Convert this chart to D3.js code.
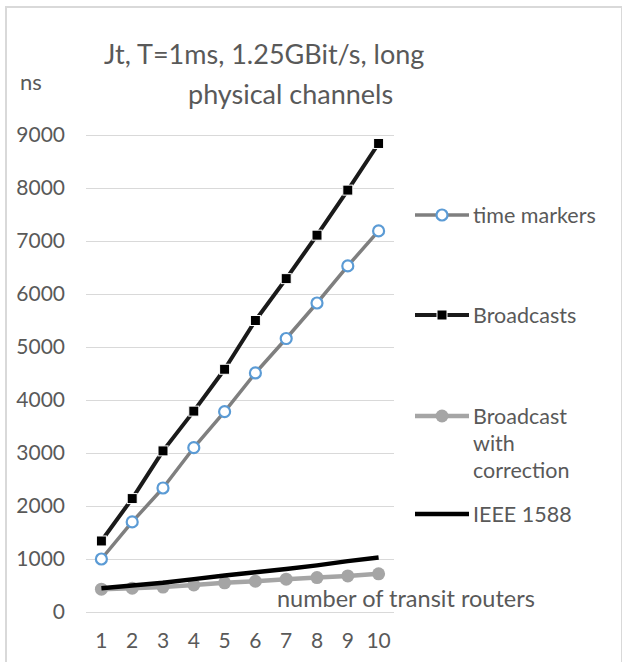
<!DOCTYPE html>
<html>
<head>
<meta charset="utf-8">
<script src="https://cdn.jsdelivr.net/npm/d3@7/dist/d3.min.js"></script>
<style>
  html, body { margin: 0; padding: 0; background: #ffffff; }
  svg { display: block; }
  text { font-family: Lato, "Open Sans", sans-serif; fill: #595959; }
</style>
</head>
<body>
<svg id="chart" width="622" height="662"></svg>
<script>
// ---- data ----
const categories = ["1", "2", "3", "4", "5", "6", "7", "8", "9", "10"];
const timeMarkers = [1000, 1700, 2340, 3100, 3780, 4510, 5160, 5830, 6530, 7190];
const broadcasts = [1340, 2140, 3040, 3790, 4580, 5500, 6290, 7110, 7960, 8840];
const broadcastCorrection = [430, 450, 470, 510, 550, 580, 620, 650, 680, 720];
const ieee1588 = [450, 500, 550, 620, 690, 750, 810, 880, 960, 1030];
const yTicks = [0, 1000, 2000, 3000, 4000, 5000, 6000, 7000, 8000, 9000];
const titleLines = ["Jt, T=1ms, 1.25GBit/s, long", "physical channels"];
const yTitle = "ns";
const xTitle = "number of transit routers";
const seriesNames = ["time markers", "Broadcasts", "Broadcast with correction", "IEEE 1588"];

const svg = d3.select("#chart");

// frame
svg.append("rect").attr("x", 6).attr("y", 7).attr("width", 616).attr("height", 670)
  .attr("fill", "none").attr("stroke", "#d9d9d9").attr("stroke-width", 2);

const x = d3.scaleBand().domain(categories).range([86, 394]);
const y = d3.scaleLinear().domain([0, 9000]).range([612, 135]);
const cx = c => x(c) + x.bandwidth() / 2;

// gridlines + y labels
const yAxis = d3.axisLeft(y).tickValues(yTicks).tickSize(-(394 - 86)).tickPadding(21).tickFormat(d3.format("d"));
const gy = svg.append("g").attr("transform", "translate(86,0)").call(yAxis);
gy.select(".domain").remove();
gy.selectAll(".tick line").attr("stroke", "#d9d9d9").attr("stroke-width", 1);
gy.selectAll(".tick text").attr("font-size", 21).attr("fill", "#595959")
  .attr("font-family", "Lato, sans-serif");

// x labels
const xAxis = d3.axisBottom(x).tickSize(0).tickPadding(21);
const gx = svg.append("g").attr("transform", "translate(0,612)").call(xAxis);
gx.select(".domain").remove();
gx.selectAll(".tick text").attr("font-size", 21).attr("fill", "#595959")
  .attr("font-family", "Lato, sans-serif");

// series
const lineGen = d3.line().x((d, i) => cx(categories[i])).y(d => y(d));

svg.append("path").datum(broadcastCorrection).attr("d", lineGen)
  .attr("fill", "none").attr("stroke", "#a5a5a5").attr("stroke-width", 4.5).attr("stroke-linejoin", "round");
svg.append("g").selectAll("circle").data(broadcastCorrection).join("circle")
  .attr("cx", (d, i) => cx(categories[i])).attr("cy", d => y(d)).attr("r", 6.5)
  .attr("fill", "#a5a5a5");

svg.append("path").datum(ieee1588).attr("d", lineGen)
  .attr("fill", "none").attr("stroke", "#000000").attr("stroke-width", 4.5).attr("stroke-linejoin", "round");

svg.append("path").datum(timeMarkers).attr("d", lineGen)
  .attr("fill", "none").attr("stroke", "#7f7f7f").attr("stroke-width", 3.5).attr("stroke-linejoin", "round");
svg.append("g").selectAll("circle").data(timeMarkers).join("circle")
  .attr("cx", (d, i) => cx(categories[i])).attr("cy", d => y(d)).attr("r", 5.5)
  .attr("fill", "#ffffff").attr("stroke", "#5b9bd5").attr("stroke-width", 2.2);

svg.append("path").datum(broadcasts).attr("d", lineGen)
  .attr("fill", "none").attr("stroke", "#1a1a1a").attr("stroke-width", 4).attr("stroke-linejoin", "round");
svg.append("g").selectAll("rect").data(broadcasts).join("rect")
  .attr("x", (d, i) => cx(categories[i]) - 5).attr("y", d => y(d) - 5)
  .attr("width", 10).attr("height", 10)
  .attr("fill", "#000000").attr("stroke", "#ffffff").attr("stroke-width", 1);

// title
svg.append("text").attr("x", 104).attr("y", 64).attr("font-size", 27).text(titleLines[0]);
svg.append("text").attr("x", 188).attr("y", 104).attr("font-size", 27).text(titleLines[1]);

// axis titles
svg.append("text").attr("x", 20).attr("y", 90).attr("font-size", 22).text(yTitle);
svg.append("text").attr("x", 277).attr("y", 607).attr("font-size", 23.5).text(xTitle);

// legend
const lx0 = 415, lx1 = 469, lmx = 442, ltx = 473, lfs = 21.5;
// time markers
let ly = 215;
svg.append("line").attr("x1", lx0).attr("x2", lx1).attr("y1", ly).attr("y2", ly)
  .attr("stroke", "#7f7f7f").attr("stroke-width", 3.5);
svg.append("circle").attr("cx", lmx).attr("cy", ly).attr("r", 5.5)
  .attr("fill", "#ffffff").attr("stroke", "#5b9bd5").attr("stroke-width", 2.2);
svg.append("text").attr("x", ltx).attr("y", ly + 7.5).attr("font-size", lfs).text(seriesNames[0]);
// broadcasts
ly = 315;
svg.append("line").attr("x1", lx0).attr("x2", lx1).attr("y1", ly).attr("y2", ly)
  .attr("stroke", "#1a1a1a").attr("stroke-width", 4);
svg.append("rect").attr("x", lmx - 5).attr("y", ly - 5).attr("width", 10).attr("height", 10)
  .attr("fill", "#000000").attr("stroke", "#ffffff").attr("stroke-width", 1);
svg.append("text").attr("x", ltx).attr("y", ly + 7.5).attr("font-size", lfs).text(seriesNames[1]);
// broadcast with correction
ly = 416;
svg.append("line").attr("x1", lx0).attr("x2", lx1).attr("y1", ly).attr("y2", ly)
  .attr("stroke", "#a5a5a5").attr("stroke-width", 4.5);
svg.append("circle").attr("cx", lmx).attr("cy", ly).attr("r", 6.5).attr("fill", "#a5a5a5");
const wrapLines = ["Broadcast", "with", "correction"];
wrapLines.forEach((t, i) => {
  svg.append("text").attr("x", ltx).attr("y", ly + 7.5 + i * 27).attr("font-size", lfs).text(t);
});
// IEEE 1588
ly = 514;
svg.append("line").attr("x1", lx0).attr("x2", lx1).attr("y1", ly).attr("y2", ly)
  .attr("stroke", "#000000").attr("stroke-width", 4.5);
svg.append("text").attr("x", ltx).attr("y", ly + 7.5).attr("font-size", lfs).text(seriesNames[3]);
</script>
</body>
</html>
